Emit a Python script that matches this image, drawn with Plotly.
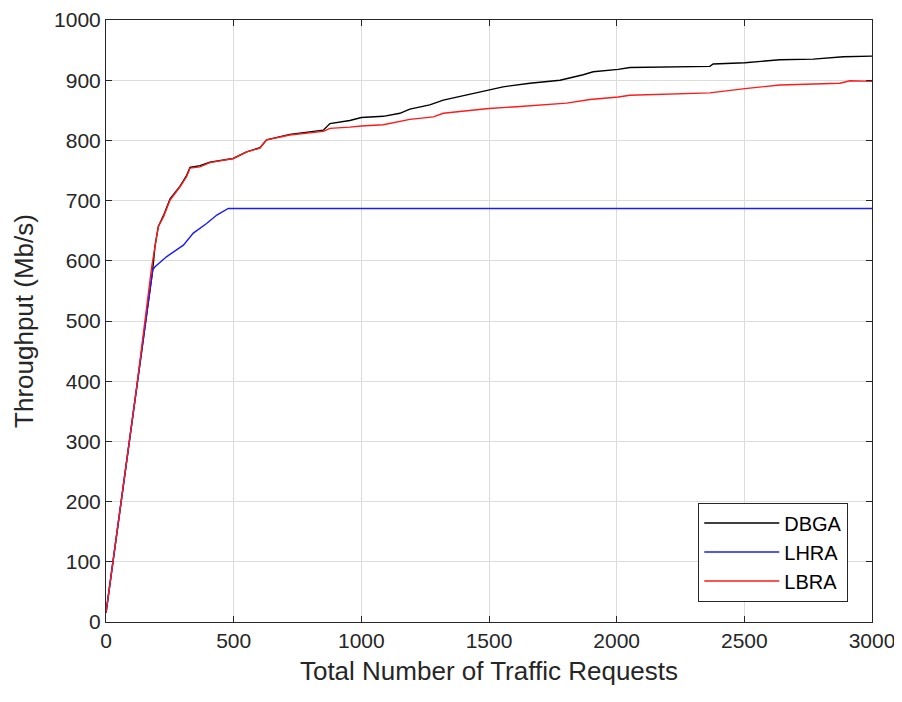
import plotly.graph_objects as go

# Data
dbga_x = [0, 60, 120, 183, 192, 205, 225, 251, 290, 316, 329, 368, 407, 498, 551, 603, 629, 681, 720, 851, 877,
          955, 1000, 1086, 1151, 1190, 1268, 1321, 1386, 1500, 1555, 1660, 1778, 1869, 1908, 2006, 2052,
          2365, 2378, 2502, 2639, 2770, 2888, 3000]
dbga_y = [15, 200, 390, 585, 625, 657, 675, 703, 724, 742, 755, 758, 764, 770, 781, 788, 801, 806, 810, 817, 828,
          833, 838, 840, 845, 852, 859, 867, 873, 884, 889, 895, 900, 909, 914, 918, 921,
          923, 927, 929, 934, 935, 939, 940]

lhra_x = [0, 60, 120, 183, 192, 238, 303, 342, 394, 434, 479, 3000]
lhra_y = [15, 200, 390, 585, 590, 607, 626, 646, 662, 676, 687, 687]

lbra_x = [0, 60, 120, 179, 192, 205, 225, 251, 290, 316, 329, 368, 407, 498, 551, 603, 629, 681, 720, 851, 877,
          955, 1000, 1086, 1151, 1190, 1282, 1321, 1386, 1500, 1608, 1713, 1804, 1896, 2006, 2052,
          2365, 2502, 2639, 2874, 2914, 3000]
lbra_y = [15, 200, 390, 590, 623, 657, 673, 701, 723, 740, 754, 756, 763, 770, 781, 787, 801, 806, 809, 815, 820,
          822, 824, 826, 831, 835, 839, 845, 848, 853, 856, 859, 862, 868, 872, 875,
          879, 886, 892, 895, 899, 898]

x_ticks = [0, 500, 1000, 1500, 2000, 2500, 3000]
y_ticks = [0, 100, 200, 300, 400, 500, 600, 700, 800, 900, 1000]

FONT = "Liberation Sans, Arial, sans-serif"

fig = go.Figure()
fig.add_trace(go.Scatter(x=dbga_x, y=dbga_y, mode="lines", name="DBGA",
                         line=dict(color="#000000", width=1.4)))
fig.add_trace(go.Scatter(x=lhra_x, y=lhra_y, mode="lines", name="LHRA",
                         line=dict(color="#1a1aff", width=1.4)))
fig.add_trace(go.Scatter(x=lbra_x, y=lbra_y, mode="lines", name="LBRA",
                         line=dict(color="#ff1a1a", width=1.4)))

axis_common = dict(
    showline=True, linecolor="#262626", linewidth=1, mirror="ticks",
    ticks="inside", ticklen=6, tickcolor="#262626",
    showgrid=True, gridcolor="#dcdcdc", gridwidth=1,
    zeroline=False, automargin=False,
    tickfont=dict(family=FONT, size=21, color="#262626"),
)

# The page body has an 8px default margin, so the figure is sized to fit the window
fig.update_layout(
    width=894, height=694,
    paper_bgcolor="white", plot_bgcolor="white",
    margin=dict(l=98, r=30, t=12, b=80),
    font=dict(family=FONT, color="#262626"),
    xaxis=dict(range=[0, 3000], tickvals=x_ticks,
               title=dict(text="Total Number of Traffic Requests",
                          font=dict(family=FONT, size=26, color="#262626"), standoff=10),
               **axis_common),
    yaxis=dict(range=[0, 1000], tickvals=y_ticks,
               title=dict(text="Throughput (Mb/s)",
                          font=dict(family=FONT, size=26, color="#262626"), standoff=12),
               **axis_common),
    legend=dict(x=0.969, y=0.034, xanchor="right", yanchor="bottom",
                bgcolor="white", bordercolor="#262626", borderwidth=1,
                font=dict(family=FONT, size=20, color="#000000"),
                itemwidth=75, tracegroupgap=0),
    showlegend=True,
)

fig.write_html("out.html")
